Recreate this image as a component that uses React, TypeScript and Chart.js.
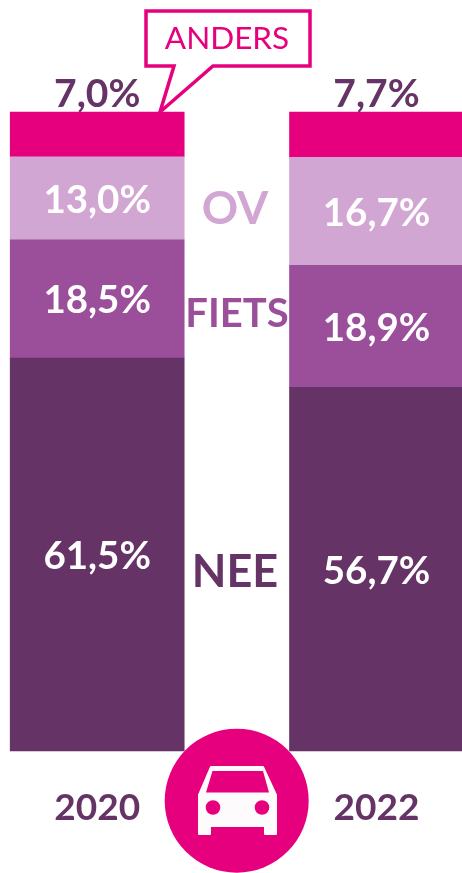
import React, { useEffect, useRef } from "react";
import { Chart, registerables } from "chart.js";

Chart.register(...registerables);

const years = ["2020", "2022"];
// Segment heights (share of the bar)
const nee = [61.5, 56.9];
const fiets = [18.5, 19.1];
const ov = [13.0, 16.9];
const anders = [7.0, 7.1];
// Printed labels
const neeLabels = ["61,5%", "56,7%"];
const fietsLabels = ["18,5%", "18,9%"];
const ovLabels = ["13,0%", "16,7%"];
const andersLabels = ["7,0%", "7,7%"];

const DARK = "#663366";
const MID = "#9B4F9B";
const LIGHT = "#D1A6D3";
const PINK = "#E6007E";
const FONT = "Lato, sans-serif";

const inBarLabels = [neeLabels, fietsLabels, ovLabels];

const artwork = {
  id: "artwork",
  beforeDatasetsDraw(chart: any) {
    const ctx = chart.ctx;
    ctx.save();
    // Labels above the bars
    const top = chart.getDatasetMeta(3);
    ctx.fillStyle = DARK;
    ctx.font = `bold 39px ${FONT}`;
    ctx.textAlign = "center";
    ctx.textBaseline = "alphabetic";
    top.data.forEach((el: any, i: number) => {
      ctx.fillText(andersLabels[i], el.x, el.y - 5);
    });
    // Callout
    ctx.strokeStyle = PINK;
    ctx.lineWidth = 3.5;
    ctx.lineJoin = "miter";
    ctx.fillStyle = "#FFFFFF";
    ctx.beginPath();
    ctx.moveTo(146, 11);
    ctx.lineTo(310, 11);
    ctx.lineTo(310, 66);
    ctx.lineTo(213, 66);
    ctx.lineTo(160, 112);
    ctx.lineTo(174, 66);
    ctx.lineTo(146, 66);
    ctx.closePath();
    ctx.fill();
    ctx.stroke();
    ctx.fillStyle = PINK;
    ctx.font = `31.5px ${FONT}`;
    ctx.textBaseline = "middle";
    ctx.fillText("ANDERS", 227, 39);
    ctx.restore();
  },
  afterDatasetsDraw(chart: any) {
    const ctx = chart.ctx;
    ctx.save();
    ctx.textAlign = "center";
    ctx.textBaseline = "middle";
    // Values in the segments
    ctx.fillStyle = "#FFFFFF";
    ctx.font = `bold 38.5px ${FONT}`;
    inBarLabels.forEach((labels, d) => {
      chart.getDatasetMeta(d).data.forEach((el: any, i: number) => {
        ctx.fillText(labels[i], el.x, (el.y + el.base) / 2 + 2);
      });
    });
    // Series names between the bars
    ctx.font = `bold 45px ${FONT}`;
    ctx.fillStyle = LIGHT;
    ctx.fillText("OV", 235, 209);
    ctx.font = `bold 40px ${FONT}`;
    ctx.fillStyle = MID;
    ctx.fillText("FIETS", 237, 314);
    ctx.font = `bold 45px ${FONT}`;
    ctx.fillStyle = DARK;
    ctx.fillText("NEE", 235, 572);
    // Car badge
    ctx.fillStyle = PINK;
    ctx.beginPath();
    ctx.arc(236.7, 800.7, 72, 0, Math.PI * 2);
    ctx.fill();
    ctx.fillStyle = "#FDFBFC";
    ctx.lineJoin = "round";
    ctx.strokeStyle = "#FDFBFC";
    ctx.lineWidth = 2;
    ctx.beginPath();
    ctx.moveTo(211, 767);
    ctx.lineTo(263, 767);
    ctx.lineTo(276, 795);
    ctx.lineTo(276, 834);
    ctx.lineTo(265, 834);
    ctx.lineTo(265, 826);
    ctx.lineTo(210, 826);
    ctx.lineTo(210, 834);
    ctx.lineTo(199, 834);
    ctx.lineTo(199, 795);
    ctx.closePath();
    ctx.fill();
    ctx.stroke();
    ctx.fillStyle = PINK;
    ctx.beginPath();
    ctx.moveTo(212.5, 771);
    ctx.lineTo(263, 771);
    ctx.lineTo(269, 792.5);
    ctx.lineTo(206, 792.5);
    ctx.closePath();
    ctx.fill();
    ctx.beginPath();
    ctx.arc(213, 807.5, 7.3, 0, Math.PI * 2);
    ctx.arc(262, 807.5, 7.3, 0, Math.PI * 2);
    ctx.fill();
    ctx.restore();
  },
};

export default function App() {
  const ref = useRef<HTMLCanvasElement>(null);
  useEffect(() => {
    document.body.style.margin = "0";
    const common = { barThickness: 174, clip: false as any, borderWidth: 0, stack: "s" };
    const chart = new Chart(ref.current!, {
      type: "bar",
      data: {
        labels: years,
        datasets: [
          { label: "NEE", data: nee, backgroundColor: DARK, ...common },
          { label: "FIETS", data: fiets, backgroundColor: MID, ...common },
          { label: "OV", data: ov, backgroundColor: LIGHT, ...common },
          { label: "ANDERS", data: anders, backgroundColor: PINK, ...common },
        ],
      },
      options: {
        responsive: false,
        animation: false,
        layout: { padding: { left: 97.2, right: 85.5, top: 112, bottom: 0 } },
        plugins: { legend: { display: false }, tooltip: { enabled: false } },
        scales: {
          x: {
            stacked: true,
            offset: false,
            grid: { display: false },
            border: { display: false },
            afterFit(scale: any) {
              scale.height = 122;
            },
            ticks: {
              color: DARK,
              padding: 27,
              maxRotation: 0,
              font: { family: FONT, size: 37, weight: "bold" },
            },
          },
          y: { stacked: true, display: false, min: 0, max: 100 },
        },
      },
      plugins: [artwork],
    });
    return () => chart.destroy();
  }, []);
  return <canvas ref={ref} width={462} height={873} style={{ display: "block" }} />;
}
